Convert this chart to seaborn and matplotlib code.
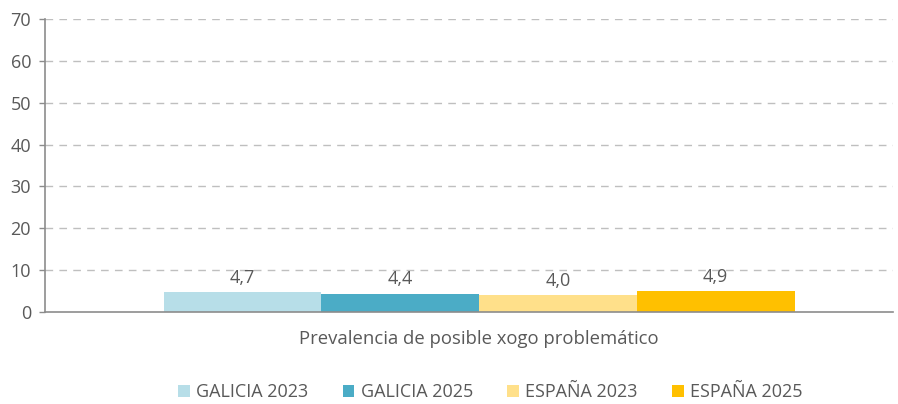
#!/usr/bin/env python3
# coding: utf-8

import pandas as pd
import matplotlib.pyplot as plt
import seaborn as sns
from matplotlib.patches import Patch

# data
categories = ["Prevalencia de posible xogo problemático"]
series = ["GALICIA 2023", "GALICIA 2025", "ESPAÑA 2023", "ESPAÑA 2025"]
values = [4.7, 4.4, 4.0, 4.9]
colors = ["#B7DEE8", "#4BACC6", "#FFE08A", "#FFC000"]
yticks = [0, 10, 20, 30, 40, 50, 60, 70]

text_color = "#595959"
fs = 13.3

sns.set_theme(style="white")
plt.rcParams['font.family'] = ['Open Sans', 'DejaVu Sans']

df = pd.DataFrame({
    "cat": categories * len(series),
    "serie": series,
    "valor": values,
})

fig = plt.figure(figsize=(8.98, 4.04), dpi=100)
ax = fig.add_axes([0.0501, 0.2277, 0.9443, 0.7253])

sns.barplot(data=df, x="cat", y="valor", hue="serie", hue_order=series,
            palette=colors, width=0.744, gap=0, saturation=1,
            edgecolor="none", linewidth=0, legend=False, ax=ax)

ax.set_ylim(0, 70)
ax.set_xlim(-0.512, 0.488)
ax.set_yticks(yticks)
ax.set_yticklabels([str(t) for t in yticks])

# dashed grid
for t in yticks[1:]:
    ax.axhline(t, color="#BFBFBF", linestyle=(0, (5.5, 4.5)), linewidth=1.0, zorder=0)

for s in ["top", "right"]:
    ax.spines[s].set_visible(False)
ax.spines["left"].set_color("#8C8C8C")
ax.spines["bottom"].set_color("#8C8C8C")
ax.spines["left"].set_linewidth(1.2)
ax.spines["bottom"].set_linewidth(1.2)

ax.tick_params(axis="y", length=4, width=1, color="#8C8C8C", labelcolor=text_color,
               labelsize=13, pad=6, left=True)
ax.tick_params(axis="x", length=0, labelcolor=text_color, labelsize=fs, pad=13)
ax.set_xlabel("")
ax.set_ylabel("")

# value labels
for cont in ax.containers:
    ax.bar_label(cont, labels=[f"{v:.1f}".replace(".", ",") for v in cont.datavalues],
                 padding=4, fontsize=13, color=text_color)

handles = [Patch(facecolor=c, edgecolor="none") for c in colors]
fig.legend(handles, series, loc="center", bbox_to_anchor=(0.546, 0.03),
           ncol=4, frameon=False, fontsize=13, labelcolor=text_color,
           handlelength=0.65, handleheight=0.65, handletextpad=0.35, columnspacing=1.9)

fig.savefig("out.png", dpi=100)
